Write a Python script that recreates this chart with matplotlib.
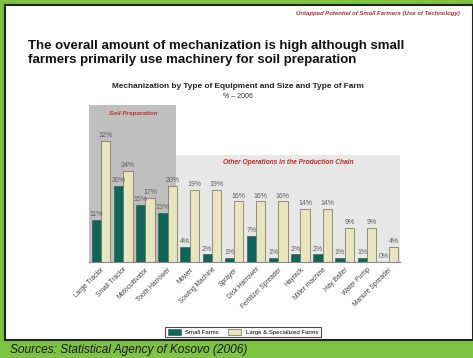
import matplotlib
matplotlib.use("Agg")
import matplotlib.pyplot as plt
from matplotlib.patches import Rectangle
import numpy as np

plt.rcParams['font.family'] = ['Liberation Sans', 'DejaVu Sans']

categories = ["Large Tractor", "Small Tractor", "Motocultivator", "Tooth Harrower",
              "Mower", "Sowing Machine", "Sprayer", "Disk Harrower", "Fertilizer Spreader",
              "Hayrack", "Miller machine", "Hay Baller", "Water Pump", "Manure Spreader"]
small_farms = [11, 20, 15, 13, 4, 2, 1, 7, 1, 2, 2, 1, 1, 0]
large_farms = [32, 24, 17, 20, 19, 19, 16, 16, 16, 14, 14, 9, 9, 4]

W, H = 473, 358
fig = plt.figure(figsize=(W / 100, H / 100), dpi=100)
fig.patch.set_facecolor('#7dc242')

def fx(px):
    return px / W

def fy(py):
    return 1 - py / H

# white panel with dark border
fig.patches.append(Rectangle((fx(5), fy(340)), fx(473) - fx(5), fy(5) - fy(340),
                             transform=fig.transFigure, facecolor='white',
                             edgecolor='#222222', linewidth=1.5, zorder=-5))

small_col = '#0e6658'
large_col = '#e8e5bd'

ax = fig.add_axes([fx(89), fy(262), fx(400) - fx(89), fy(105) - fy(262)])
ax.set_zorder(2)
ax.set_facecolor('none')
x = np.arange(len(categories))
bw = 0.42
ax.set_xlim(-0.55, 13.5)
ax.set_ylim(0, 41.5)

ax.axvspan(-0.55, 3.4, ymin=0, ymax=1, color='#bfbfbf', zorder=0, lw=0)
ax.axvspan(3.4, 13.5, ymin=0, ymax=28.3 / 41.5, color='#e7e7e7', zorder=0, lw=0)

ax.bar(x - bw / 2, small_farms, bw, color=small_col, edgecolor='#2f4f48', linewidth=0.4,
       zorder=2, label='Small Farms')
ax.bar(x + bw / 2, large_farms, bw, color=large_col, edgecolor='#6b6b5a', linewidth=0.5,
       zorder=2, label='Large & Specialized Farms')

for xi, v in zip(x, small_farms):
    ax.text(xi - bw / 2, v + 0.5, f"{v}%", ha='center', va='bottom', fontsize=5,
            color='#606060', zorder=3)
for xi, v in zip(x, large_farms):
    ax.text(xi + bw / 2, v + 0.5, f"{v}%", ha='center', va='bottom', fontsize=5,
            color='#606060', zorder=3)

ax.text(1.45, 39.2, "Soil Preparation", ha='center', va='center', fontsize=4.6,
        fontstyle='italic', fontweight='bold', color='#b5322a')
ax.text(8.45, 26.4, "Other Operations in the Production Chain", ha='center', va='center',
        fontsize=4.8, fontstyle='italic', fontweight='bold', color='#b5322a')

for s in ['top', 'right', 'left']:
    ax.spines[s].set_visible(False)
ax.spines['bottom'].set_color('#888888')
ax.spines['bottom'].set_linewidth(0.8)
ax.set_yticks([])
ax.set_xticks(x)
ax.set_xticklabels(categories, rotation=45, ha='right', rotation_mode='anchor',
                   fontsize=4.8, color='#444444')
ax.tick_params(axis='x', length=0, pad=3)

leg = ax.legend(loc='center', bbox_to_anchor=(fx(243), fy(332)),
                bbox_transform=fig.transFigure, ncol=2, fontsize=4.3, frameon=True,
                fancybox=False, edgecolor='#222222', handlelength=2.2, handleheight=1.2,
                columnspacing=1.5, borderpad=0.4)
leg.get_frame().set_linewidth(0.8)

fig.text(fx(460), fy(13), "Untapped Potential of Small Farmers (Use of Technology)",
         ha='right', va='center', fontsize=4.3, fontstyle='italic', fontweight='bold',
         color='#a3302b')
fig.text(fx(28), fy(53), "The overall amount of mechanization is high although small\n"
         "farmers primarily use machinery for soil preparation",
         ha='left', va='center', fontsize=9.5, fontweight='bold', color='#111111',
         linespacing=1.25)
fig.text(fx(238), fy(87), "Mechanization by Type of Equipment and Size and Type of Farm",
         ha='center', va='center', fontsize=5.95, fontweight='bold', color='#222222')
fig.text(fx(238), fy(97), "% \u2013 2006", ha='center', va='center', fontsize=5,
         color='#333333')
fig.text(fx(10), fy(350), "Sources: Statistical Agency of Kosovo (2006)", ha='left',
         va='center', fontsize=8.6, fontstyle='italic', color='#1a1a1a')

fig.savefig("out.png", dpi=100, facecolor=fig.get_facecolor())
